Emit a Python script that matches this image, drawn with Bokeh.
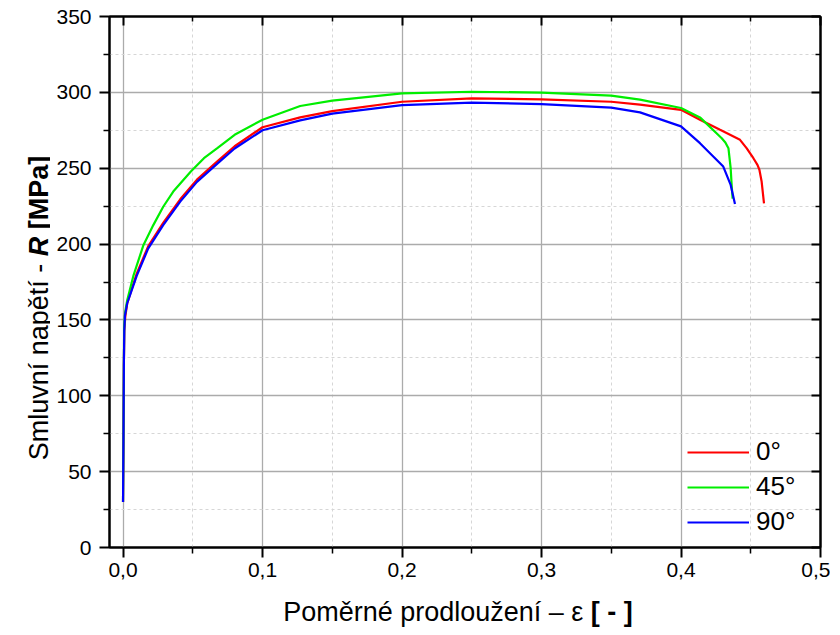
import math
from bokeh.plotting import figure
from bokeh.layouts import row, column
from bokeh.models import (FixedTicker, LinearAxis, CustomJSTickFormatter,
                          Legend, LegendItem, Range1d)
from bokeh.core.properties import value
from bokeh.embed import file_html
from bokeh.resources import INLINE

# ---------------- data ----------------
eps_0 = [0, 0.0003, 0.0006, 0.0009, 0.0016, 0.003, 0.0098, 0.018, 0.0288, 0.041,
         0.053, 0.0676, 0.08, 0.1, 0.127, 0.15, 0.2, 0.25, 0.3, 0.35, 0.3706,
         0.4, 0.4136, 0.428, 0.4423, 0.447, 0.4519, 0.4548, 0.4562, 0.4578, 0.4595]
R_0 = [30, 70, 120, 143, 152, 161, 180.5, 198.5, 214, 229.5, 242.5, 254.5, 264.5,
       277, 283.5, 287.6, 293.8, 296, 295.4, 293.8, 291.9, 288.5, 282, 275.3,
       268.7, 263.2, 256.6, 252.2, 249, 241.2, 226.9]

eps_45 = [0, 0.0003, 0.0006, 0.0008, 0.0015, 0.003, 0.0074, 0.0145, 0.0217, 0.0288,
          0.036, 0.0486, 0.058, 0.0676, 0.08, 0.1, 0.127, 0.15, 0.2, 0.25, 0.3,
          0.35, 0.3706, 0.4, 0.4136, 0.4292, 0.4318, 0.434, 0.4356, 0.4363, 0.437]
R_45 = [30, 70, 120, 145, 155, 163, 179, 199, 212.5, 224.6, 234.6, 247.8, 256.6,
        263.2, 272, 282, 291, 294.5, 299.3, 300.4, 299.8, 297.8, 295.2, 289.7,
        283.5, 269.8, 267, 263.2, 250, 239, 230]

eps_90 = [0, 0.0003, 0.0006, 0.0009, 0.0014, 0.003, 0.0098, 0.018, 0.0288, 0.041,
          0.053, 0.0676, 0.08, 0.1, 0.127, 0.15, 0.2, 0.25, 0.3, 0.35, 0.3706,
          0.4, 0.4136, 0.4303, 0.4356, 0.4387]
R_90 = [30, 70, 120, 143, 153, 161, 179, 197, 212.5, 228, 241, 253, 263, 275,
        281.5, 286, 291.6, 293.2, 292.3, 289.9, 286.8, 277.6, 266.5, 251.1, 239,
        226.4]

series_labels = ["0°", "45°", "90°"]
series_colors = ["#ff0000", "#00ee00", "#0000ff"]

x_major = [0.0, 0.1, 0.2, 0.3, 0.4, 0.5]
x_minor = [0.05, 0.15, 0.25, 0.35, 0.45]
y_major = [0, 50, 100, 150, 200, 250, 300, 350]
y_minor = [25, 75, 125, 175, 225, 275, 325]

# axis titles as (text, font style) segments, separated by one space
x_title = [("Poměrné prodloužení – ε", "normal"), ("[ - ]", "bold")]
y_title = [("Smluvní napětí -", "normal"), ("R", "bold italic"), ("[MPa]", "bold")]

FONT = "Liberation Sans"

# ---------------- layout sizes (pixels) ----------------
LEFT_W = 50
MAIN_LEFT = 59
FRAME_W, FRAME_H = 711, 531
TOP_B, RIGHT_B, BOTTOM_B = 16, 10, 50
MAIN_W = MAIN_LEFT + FRAME_W + RIGHT_B
MAIN_H = TOP_B + FRAME_H + BOTTOM_B
TOTAL_H = 630
XT_H = TOTAL_H - MAIN_H
FRAME_X0 = LEFT_W + MAIN_LEFT          # page x of the frame's left edge

# ---------------- main figure ----------------
p = figure(output_backend="svg", toolbar_location=None,
           x_range=Range1d(-0.0097, 0.5), y_range=Range1d(0, 350),
           frame_width=FRAME_W, frame_height=FRAME_H,
           min_border_left=MAIN_LEFT, min_border_top=TOP_B,
           min_border_right=RIGHT_B, min_border_bottom=BOTTOM_B, align="start")
p.outline_line_color = "black"
p.outline_line_width = 2
p.background_fill_color = "white"
p.border_fill_color = "white"

xa = p.xaxis[0]
xa.ticker = FixedTicker(ticks=x_major, minor_ticks=x_minor)
xa.formatter = CustomJSTickFormatter(code="return tick.toFixed(1).replace('.', ',');")
ya = p.yaxis[0]
ya.ticker = FixedTicker(ticks=y_major, minor_ticks=y_minor)

for ax in (xa, ya):
    ax.axis_line_width = 2
    ax.axis_line_color = "black"
    ax.major_tick_line_width = 2
    ax.minor_tick_line_width = 1.5
    ax.major_tick_line_color = "black"
    ax.minor_tick_line_color = "black"
    ax.major_tick_in = 0
    ax.major_tick_out = 10
    ax.minor_tick_in = 0
    ax.minor_tick_out = 6
    ax.major_label_text_font = FONT
    ax.major_label_text_font_size = "21px"
    ax.major_label_text_color = "black"
xa.major_label_standoff = 5
ya.major_label_standoff = 8

top = LinearAxis(ticker=FixedTicker(ticks=x_major, minor_ticks=x_minor),
                 formatter=CustomJSTickFormatter(code="return '';"))
right = LinearAxis(ticker=FixedTicker(ticks=y_major, minor_ticks=y_minor),
                   formatter=CustomJSTickFormatter(code="return '';"))
for ax in (top, right):
    ax.axis_line_width = 2
    ax.axis_line_color = "black"
    ax.major_tick_line_width = 2
    ax.minor_tick_line_width = 1.5
    ax.major_tick_in = 9
    ax.major_tick_out = 0
    ax.minor_tick_in = 5
    ax.minor_tick_out = 0
    ax.major_label_standoff = 0
    ax.major_label_text_font_size = "1px"
p.add_layout(top, "above")
p.add_layout(right, "right")

for g in (p.xgrid[0], p.ygrid[0]):
    g.grid_line_color = "#ababab"
    g.grid_line_width = 1.3
    g.minor_grid_line_color = "#d6d6d6"
    g.minor_grid_line_width = 1
    g.minor_grid_line_dash = "3 3"

renderers = []
for xs, ys, c in ((eps_0, R_0, series_colors[0]), (eps_45, R_45, series_colors[1]),
                  (eps_90, R_90, series_colors[2])):
    renderers.append(p.line(xs, ys, line_color=c, line_width=2.2))

legend = Legend(items=[LegendItem(label=lab, renderers=[r])
                       for lab, r in zip(series_labels, renderers)],
                location=(578, 10), padding=0, margin=0, spacing=4,
                glyph_width=62, glyph_height=30, label_height=30,
                label_standoff=7, label_text_font=FONT, label_text_color="black",
                label_text_font_size="26px", border_line_alpha=0,
                background_fill_alpha=0)
p.add_layout(legend, "center")

# ---------------- axis titles (mixed styles) ----------------
W_REG = {"S": 667, "m": 833, "l": 222, "u": 556, "v": 500, "n": 556, "í": 278,
         " ": 278, "a": 556, "p": 556, "ě": 556, "t": 278, "-": 333, "P": 667,
         "o": 556, "r": 333, "é": 556, "d": 556, "ž": 500, "e": 556, "–": 556,
         "ε": 446}
W_BOLD = {" ": 278, "[": 333, "M": 833, "P": 667, "a": 556, "]": 333, "-": 333,
          "R": 722}
TS = 27


def seg_width(txt, style):
    table = W_REG if style == "normal" else W_BOLD
    return sum(table.get(ch, 556) for ch in txt) * TS / 1000.0


def layout_segments(segs):
    space = 278 * TS / 1000.0
    pos, cur = [], 0.0
    for txt, style in segs:
        pos.append(cur)
        cur += seg_width(txt, style) + space
    return pos, cur - space


def strip_fig(w, h, xr, yr):
    f = figure(width=w, height=h, output_backend="svg", toolbar_location=None,
               x_range=Range1d(*xr), y_range=Range1d(*yr),
               x_axis_location=None, y_axis_location=None, min_border=0,
               align="start")
    f.outline_line_color = None
    f.xgrid.visible = False
    f.ygrid.visible = False
    f.background_fill_color = "white"
    f.border_fill_color = "white"
    return f


# vertical title strip (coordinates in pixels, y up from the bottom)
py = strip_fig(LEFT_W, TOTAL_H, (0, LEFT_W), (0, TOTAL_H))
pos, total = layout_segments(y_title)
y0 = (TOTAL_H - 307.5) - total / 2
for (txt, style), off in zip(y_title, pos):
    py.text(x=[38], y=[y0 + off], text=[txt], angle=math.pi / 2,
            text_font=value(FONT), text_font_size=value(f"{TS}px"),
            text_font_style=style, text_align="left",
            text_baseline="alphabetic", text_color="black")

# horizontal title strip below the main figure; its frame lines up with the
# main frame, so its x range is given in page pixels of that frame
px = strip_fig(MAIN_W, XT_H, (FRAME_X0, FRAME_X0 + FRAME_W), (0, XT_H))
pos, total = layout_segments(x_title)
x0 = 457.5 - total / 2
for (txt, style), off in zip(x_title, pos):
    px.text(x=[x0 + off], y=[TOTAL_H - 611], text=[txt], text_font=value(FONT),
            text_font_size=value(f"{TS}px"), text_font_style=style,
            text_align="left", text_baseline="alphabetic", text_color="black")

layout = row(py, column(p, px, spacing=0, align="start"), spacing=0)
open("out.html", "w").write(file_html(layout, INLINE))
